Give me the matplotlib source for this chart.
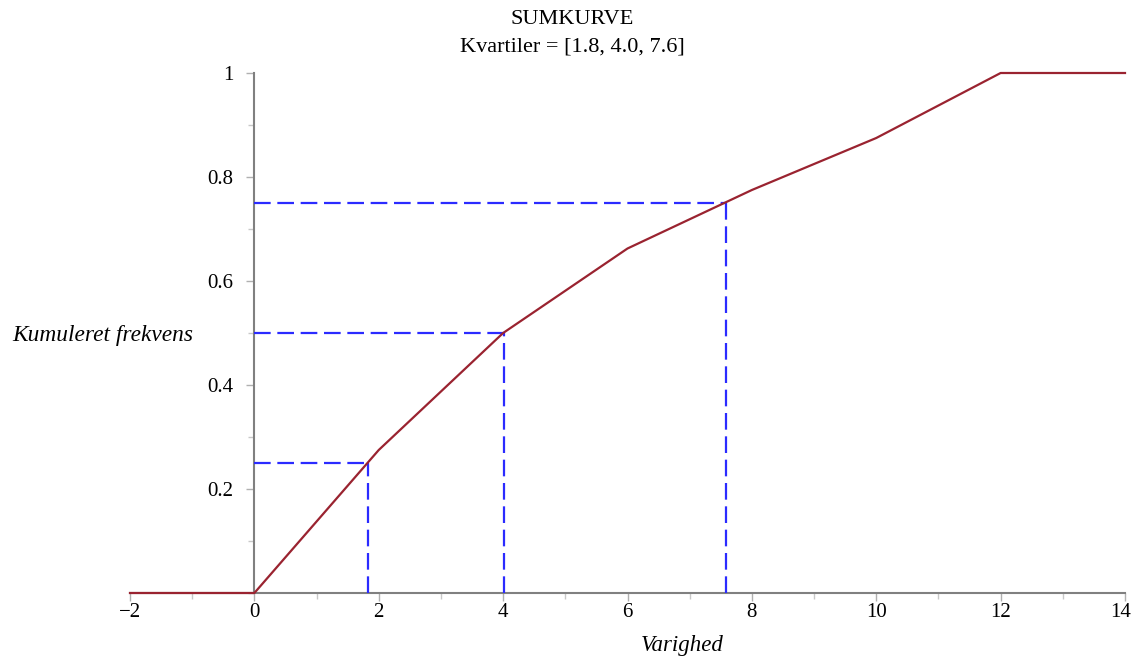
import matplotlib
matplotlib.use("Agg")
import matplotlib.pyplot as plt
import matplotlib.transforms as mtransforms
from matplotlib.ticker import MultipleLocator

# cumulative frequency polygon
varighed = [-2, 0, 2, 4, 6, 8, 10, 12, 14]
kum_frekvens = [0, 0, 0.275, 0.5, 0.6625, 0.775, 0.875, 1.0, 1.0]

# quartiles
kvartil_x = [1.82, 4.02, 7.59]
kvartil_y = [0.25, 0.5, 0.75]

x_ticks = [-2, 0, 2, 4, 6, 8, 10, 12, 14]
x_ticklabels = ['\u22122', '0', '2', '4', '6', '8', '10', '12', '14']
y_ticks = [0.2, 0.4, 0.6, 0.8, 1.0]
y_ticklabels = ['0.2', '0.4', '0.6', '0.8', '1']

plt.rcParams['font.family'] = ['Liberation Serif', 'DejaVu Serif']

fig = plt.figure(figsize=(11.32, 6.57), dpi=100)
ax = fig.add_axes([130 / 1132, 64 / 657, 995 / 1132, 520 / 657])

axis_color = '#808080'
curve_color = '#9a2330'
dash_color = '#2b2bff'

ax.plot(varighed, kum_frekvens, color=curve_color, lw=1.6, clip_on=False, zorder=4)

for qx, qy in zip(kvartil_x, kvartil_y):
    ax.plot([0, qx], [qy, qy], color=dash_color, lw=1.6,
            linestyle=(0, (7.5, 3.0)), zorder=3)
    ax.plot([qx, qx], [0, qy], color=dash_color, lw=1.6,
            linestyle=(0, (7.5, 3.0)), zorder=3)

ax.set_xlim(-2, 14)
ax.set_ylim(0, 1)

for s in ['top', 'right']:
    ax.spines[s].set_visible(False)
ax.spines['left'].set_position(('data', 0))
ax.spines['bottom'].set_position(('data', 0))
for s in ['left', 'bottom']:
    ax.spines[s].set_color(axis_color)
    ax.spines[s].set_linewidth(1.5)

ax.xaxis.set_minor_locator(MultipleLocator(1))
ax.yaxis.set_minor_locator(MultipleLocator(0.1))

ax.set_xticks(x_ticks)
ax.set_xticklabels(x_ticklabels)
ax.set_yticks(y_ticks)
ax.set_yticklabels(y_ticklabels)

ax.tick_params(which='major', length=6, width=1, color='#b0b0b0', labelsize=15)
ax.tick_params(axis='x', which='major', pad=1)
ax.tick_params(axis='y', which='major', pad=9)
ax.tick_params(which='minor', length=4, width=1, color='#c8c8c8')

# keep the last x label inside the figure
last = ax.get_xticklabels()[-1]
last.set_transform(last.get_transform() +
                   mtransforms.ScaledTranslation(-4 / 100, 0, fig.dpi_scale_trans))

fig.text(572 / 1132, 1 - 20 / 657, 'SUMKURVE', ha='center', va='center', fontsize=16)
fig.text(572 / 1132, 1 - 47 / 657, 'Kvartiler = [1.8, 4.0, 7.6]', ha='center', va='center', fontsize=16)

fig.text(12 / 1132, 1 - 335 / 657, 'Kumuleret frekvens', ha='left', va='center',
         fontsize=16.8, style='italic')
fig.text(682 / 1132, 1 - 645 / 657, 'Varighed', ha='center', va='center',
         fontsize=16.5, style='italic')

fig.savefig('out.png', dpi=100)
